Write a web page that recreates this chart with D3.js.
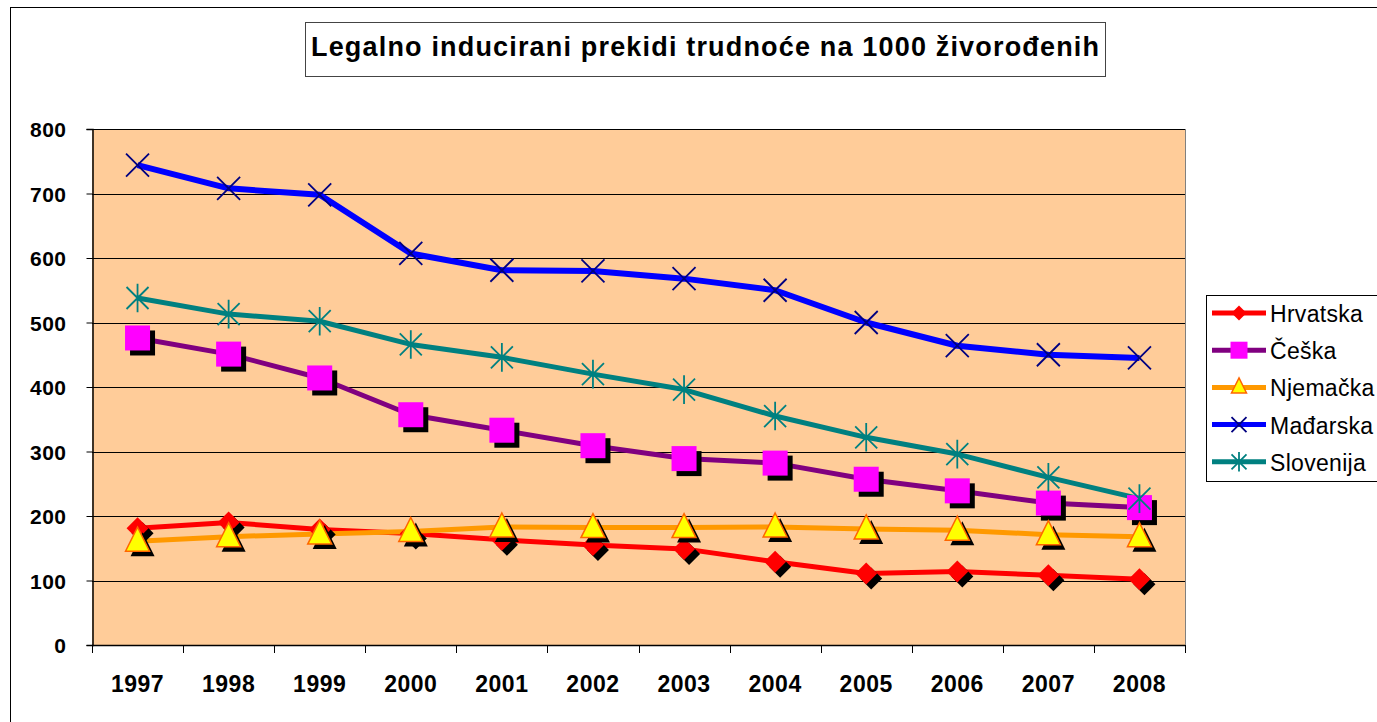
<!DOCTYPE html>
<html lang="hr">
<head>
  <meta charset="UTF-8" />
  <title>Legalno inducirani prekidi trudnoće</title>
  <style>
    body { margin: 0; background: #fff; }
    svg { display: block; font-family: "Liberation Sans", Arial, sans-serif; }
  </style>
</head>
<body>
  <svg id="chart" width="1377" height="722"></svg>

  <script src="https://d3js.org/d3.v7.min.js"></script>
  <script>
    const years = ["1997", "1998", "1999", "2000", "2001", "2002", "2003", "2004", "2005", "2006", "2007", "2008"];
    const yTicks = [0, 100, 200, 300, 400, 500, 600, 700, 800];

    const hrvatska = [181, 190, 179, 173, 163, 155, 149, 129, 111, 114, 108, 102];
    const ceska = [476, 451, 414, 357, 333, 309, 289, 282, 257, 239, 220, 213];
    const njemacka = [161, 168, 172, 176, 183, 182, 182, 183, 180, 178, 171, 168];
    const madarska = [744, 708, 698, 607, 581, 580, 568, 550, 500, 464, 450, 445];
    const slovenija = [538, 513, 502, 466, 446, 420, 396, 355, 322, 296, 260, 227];

    const series = [
      { name: "Hrvatska", values: hrvatska, color: "#ff0000", marker: "diamond" },
      { name: "Češka", values: ceska, color: "#800080", marker: "square" },
      { name: "Njemačka", values: njemacka, color: "#ff9900", marker: "triangle" },
      { name: "Mađarska", values: madarska, color: "#0000ff", marker: "x" },
      { name: "Slovenija", values: slovenija, color: "#008080", marker: "star" }
    ];

    const svg = d3.select("#chart");
    const plot = { left: 92, top: 129, right: 1185, bottom: 645 };

    const x = d3.scaleBand().domain(years).range([plot.left, plot.right]);
    const y = d3.scaleLinear().domain([0, 800]).range([plot.bottom, plot.top]);

    // outer chart frame
    svg.append("rect")
      .attr("x", 10.5).attr("y", 7.5)
      .attr("width", 1400).attr("height", 760)
      .attr("fill", "#fff").attr("stroke", "#000").attr("stroke-width", 1);

    // title
    const titleG = svg.append("g");
    titleG.append("rect")
      .attr("x", 305.5).attr("y", 22.5).attr("width", 800).attr("height", 54)
      .attr("fill", "#fff").attr("stroke", "#444").attr("stroke-width", 1);
    titleG.append("text")
      .attr("x", 705).attr("y", 56)
      .attr("text-anchor", "middle")
      .attr("textLength", 788).attr("lengthAdjust", "spacing")
      .style("font-size", "27px").style("font-weight", "bold")
      .text("Legalno inducirani prekidi trudnoće na 1000 živorođenih");

    // plot background
    svg.append("rect")
      .attr("x", plot.left).attr("y", plot.top)
      .attr("width", plot.right - plot.left).attr("height", plot.bottom - plot.top)
      .attr("fill", "#ffcc99");

    // gridlines
    svg.append("g")
      .selectAll("line")
      .data(yTicks.filter(d => d > 0))
      .join("line")
      .attr("x1", plot.left).attr("x2", plot.right)
      .attr("y1", d => Math.round(y(d)) + 0.5).attr("y2", d => Math.round(y(d)) + 0.5)
      .attr("stroke", "#000").attr("stroke-width", 1);

    // right border of plot
    svg.append("line")
      .attr("x1", plot.right + 0.5).attr("x2", plot.right + 0.5)
      .attr("y1", plot.top).attr("y2", plot.bottom)
      .attr("stroke", "#808080");

    // y axis
    const yAxis = svg.append("g")
      .attr("transform", `translate(${plot.left + 0.5},0)`)
      .call(d3.axisLeft(y).tickValues(yTicks).tickSize(6).tickPadding(20).tickFormat(d3.format("d")));
    yAxis.select(".domain").attr("stroke", "#000").attr("stroke-width", 1.5);
    yAxis.selectAll(".tick text")
      .attr("dy", "0.36em")
      .style("font-size", "21px").style("font-weight", "bold").style("letter-spacing", "0.5px")
      .style("font-family", "'Liberation Sans', Arial, sans-serif").attr("fill", "#000");

    // x axis: ticks between categories
    const xg = svg.append("g");
    xg.append("line")
      .attr("x1", plot.left).attr("x2", plot.right)
      .attr("y1", plot.bottom + 0.5).attr("y2", plot.bottom + 0.5)
      .attr("stroke", "#000").attr("stroke-width", 1.5);
    const bounds = years.map(d => x(d)).concat([x(years[years.length - 1]) + x.bandwidth()]);
    xg.selectAll("line.tk")
      .data(bounds)
      .join("line")
      .attr("class", "tk")
      .attr("x1", d => Math.round(d) + 0.5).attr("x2", d => Math.round(d) + 0.5)
      .attr("y1", plot.bottom).attr("y2", plot.bottom + 8)
      .attr("stroke", "#000");
    xg.selectAll("text")
      .data(years)
      .join("text")
      .attr("x", d => x(d) + x.bandwidth() / 2)
      .attr("y", 692)
      .attr("text-anchor", "middle")
      .style("font-size", "23px").style("font-weight", "bold").style("letter-spacing", "0.5px")
      .text(d => d);

    const cx = (d, i) => x(years[i]) + x.bandwidth() / 2;

    // lines
    const line = d3.line().x((d, i) => cx(d, i)).y(d => y(d));
    svg.append("g")
      .selectAll("path")
      .data(series)
      .join("path")
      .attr("fill", "none")
      .attr("stroke", d => d.color)
      .attr("stroke-width", d => d.marker === "x" ? 6 : 5)
      .attr("stroke-linejoin", "round")
      .attr("d", d => line(d.values));

    // marker drawing
    function drawMarker(g, type, size, shadow) {
      if (type === "diamond") {
        const r = size * 0.5;
        const p = `M0,${-r}L${r},0L0,${r}L${-r},0Z`;
        if (shadow) g.append("path").attr("d", p).attr("transform", "translate(5,5)").attr("fill", "#000");
        g.append("path").attr("d", p).attr("fill", "#ff0000");
      } else if (type === "square") {
        const h = size / 2;
        if (shadow) g.append("rect").attr("x", -h + 5).attr("y", -h + 5).attr("width", size).attr("height", size).attr("fill", "#000");
        g.append("rect").attr("x", -h).attr("y", -h).attr("width", size).attr("height", size).attr("fill", "#ff00ff");
      } else if (type === "triangle") {
        const h = size / 2;
        const p = `M0,${-h - 2}L${h},${h - 2}L${-h},${h - 2}Z`;
        if (shadow) g.append("path").attr("d", p).attr("transform", "translate(5,5)").attr("fill", "#000");
        g.append("path").attr("d", p).attr("fill", "#ffff00").attr("stroke", "#ff6600").attr("stroke-width", 1.5);
      } else if (type === "x") {
        const h = size / 2;
        g.append("path").attr("d", `M${-h},${-h}L${h},${h}M${-h},${h}L${h},${-h}`)
          .attr("stroke", "#000080").attr("stroke-width", 1.8);
      } else if (type === "star") {
        const h = size / 2;
        g.append("path").attr("d", `M${-h},${-h}L${h},${h}M${-h},${h}L${h},${-h}M0,${-h * 1.3}L0,${h * 1.3}`)
          .attr("stroke", "#008080").attr("stroke-width", 1.8);
      }
    }

    const markerSize = { diamond: 22, square: 25, triangle: 24, x: 23, star: 22 };

    series.forEach(s => {
      const g = svg.append("g");
      s.values.forEach((v, i) => {
        const mg = g.append("g").attr("transform", `translate(${cx(v, i)},${y(v)})`);
        drawMarker(mg, s.marker, markerSize[s.marker], true);
      });
    });

    // legend
    const legend = svg.append("g");
    legend.append("rect")
      .attr("x", 1206.5).attr("y", 295.5).attr("width", 200).attr("height", 186)
      .attr("fill", "#fff").attr("stroke", "#000").attr("stroke-width", 1);
    series.forEach((s, i) => {
      const ly = 313 + i * 37.2;
      const lg = legend.append("g");
      lg.append("line")
        .attr("x1", 1212).attr("x2", 1266).attr("y1", ly).attr("y2", ly)
        .attr("stroke", s.color).attr("stroke-width", 5);
      const mg = lg.append("g").attr("transform", `translate(1239,${ly})`);
      drawMarker(mg, s.marker, s.marker === "square" ? 17 : 15, false);
      lg.append("text")
        .attr("x", 1270).attr("y", ly + 9)
        .style("font-size", "23px").style("letter-spacing", "0.3px")
        .text(s.name);
    });
  </script>
</body>
</html>
